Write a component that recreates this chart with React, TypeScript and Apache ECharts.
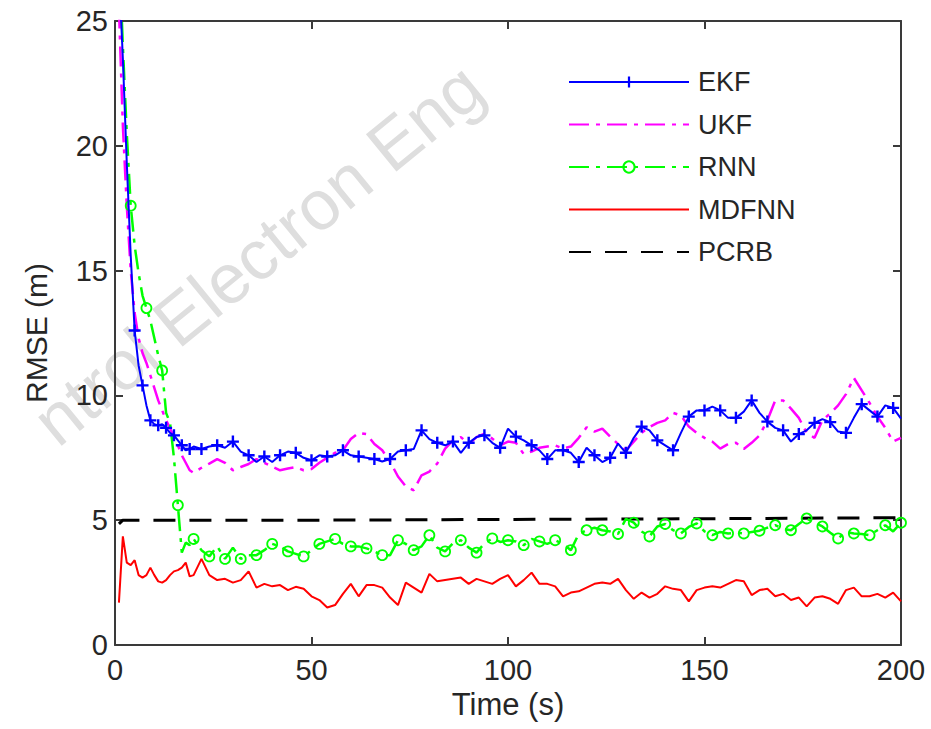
import React, { useEffect, useRef } from "react";
import * as echarts from "echarts";

const TIME = [
  1, 2, 3, 4, 5, 6, 7, 8, 9, 10, 11, 12, 13, 14, 15, 16, 17, 18, 19, 20,
  22, 24, 26, 28, 30, 32, 34, 36, 38, 40, 42, 44, 46, 48, 50, 52, 54, 56, 58, 60,
  62, 64, 66, 68, 70, 72, 74, 76, 78, 80, 82, 84, 86, 88, 90, 92, 94, 96, 98, 100,
  102, 104, 106, 108, 110, 112, 114, 116, 118, 120, 122, 124, 126, 128, 130, 132, 134, 136, 138, 140,
  142, 144, 146, 148, 150, 152, 154, 156, 158, 160, 162, 164, 166, 168, 170, 172, 174, 176, 178, 180,
  182, 184, 186, 188, 190, 192, 194, 196, 198, 200,
];

const EKF = [
  27, 23.5, 19.3, 15.6, 12.6, 11.2, 10.4, 9.6, 9.0, 8.85, 8.8, 8.85, 8.7, 8.5, 8.4, 8.2, 8.0, 7.8, 7.85, 7.95,
  7.85, 7.95, 8.0, 7.9, 8.15, 7.75, 7.6, 7.33, 7.55, 7.33, 7.6, 7.75, 7.7, 7.5, 7.4, 7.6, 7.55, 7.6, 7.8, 7.6,
  7.55, 7.5, 7.45, 7.35, 7.45, 7.75, 7.8, 7.85, 8.6, 8.25, 8.1, 8.0, 8.15, 7.7, 8.1, 8.33, 8.4, 8.1, 7.9, 8.67,
  8.35, 8.2, 8.0, 7.8, 7.45, 7.8, 7.8, 7.7, 7.33, 7.9, 7.6, 7.33, 7.5, 8.07, 7.7, 8.3, 8.75, 8.6, 8.2, 8.0,
  7.8, 8.5, 9.15, 9.4, 9.4, 9.55, 9.4, 9.1, 9.1, 9.35, 9.8, 9.3, 8.95, 8.7, 8.6, 8.15, 8.45, 8.6, 8.9, 9.05,
  8.93, 8.55, 8.5, 9.1, 9.65, 9.4, 9.15, 9.6, 9.5, 9.07,
];

const UKF = [
  25.5, 20.8, 17.6, 15.0, 13.3, 12.3, 11.7, 11.3, 10.8, 10.3, 9.8, 9.4, 9.0, 8.7, 8.3, 8.0, 7.6, 7.3, 7.0, 6.9,
  7.1, 7.27, 7.45, 7.3, 7.0, 7.13, 7.25, 7.45, 7.3, 7.15, 7.0, 7.07, 7.13, 7.0, 7.05, 7.3, 7.5, 7.7, 7.8, 8.25,
  8.5, 8.45, 8.05, 7.8, 7.35, 6.75, 6.35, 6.2, 6.8, 6.95, 7.27, 7.87, 8.2, 8.33, 8.05, 8.33, 8.47, 8.27, 8.0, 8.15,
  8.1, 7.65, 7.75, 7.9, 7.95, 8.0, 7.87, 7.95, 8.3, 8.72, 8.55, 8.67, 8.35, 8.05, 7.8, 8.15, 8.5, 8.73, 8.9, 9.0,
  9.3, 9.2, 8.75, 8.5, 8.3, 8.15, 7.87, 8.05, 8.1, 7.85, 8.1, 8.4, 9.0, 9.8, 9.8, 9.47, 9.1, 8.5, 8.3, 9.0,
  9.28, 9.6, 10.05, 10.7, 10.2, 9.7, 9.15, 8.7, 8.15, 8.3,
];

const RNN = [
  28, 24, 20.5, 17.6, 16.0, 14.9, 14.0, 13.5, 13.0, 12.3, 11.6, 11.0, 9.3, 8.9, 7.5, 5.6, 3.7, 4.1, 4.0, 4.25,
  3.8, 3.55, 3.95, 3.45, 3.9, 3.45, 3.6, 3.6, 3.8, 4.05, 3.95, 3.75, 3.65, 3.55, 3.8, 4.05, 4.15, 4.25, 4.05, 3.95,
  3.95, 3.87, 3.75, 3.6, 3.6, 4.2, 4.05, 3.8, 3.95, 4.4, 3.9, 3.75, 4.07, 4.2, 3.9, 3.7, 4.07, 4.27, 4.13, 4.2,
  4.15, 4.0, 4.25, 4.15, 4.05, 4.2, 4.05, 3.8, 4.45, 4.6, 4.7, 4.6, 4.55, 4.45, 5.05, 4.9, 4.55, 4.35, 4.75, 4.85,
  4.6, 4.47, 4.73, 4.87, 4.55, 4.4, 4.53, 4.47, 4.5, 4.47, 4.53, 4.58, 4.7, 4.8, 4.65, 4.6, 4.85, 5.07, 4.9, 4.75,
  4.5, 4.27, 4.53, 4.47, 4.45, 4.4, 4.6, 4.8, 4.55, 4.9,
];

const MDFNN = [
  1.7, 4.35, 3.3, 3.2, 3.4, 2.8, 2.7, 2.8, 3.1, 2.8, 2.55, 2.5, 2.6, 2.8, 2.95, 3.0, 3.1, 3.3, 2.75, 2.8,
  3.45, 2.8, 2.6, 2.65, 2.5, 2.6, 2.95, 2.3, 2.45, 2.35, 2.4, 2.2, 2.33, 2.25, 1.95, 1.8, 1.5, 1.6, 2.05, 2.45,
  1.95, 2.4, 2.4, 2.3, 1.9, 1.6, 2.5, 2.3, 2.1, 2.85, 2.55, 2.6, 2.65, 2.7, 2.45, 2.65, 2.55, 2.45, 2.65, 2.8,
  2.35, 2.6, 2.9, 2.45, 2.45, 2.35, 1.95, 2.1, 2.15, 2.3, 2.45, 2.5, 2.45, 2.65, 2.2, 1.85, 2.1, 1.9, 2.05, 2.35,
  2.25, 2.2, 1.75, 2.2, 2.3, 2.35, 2.3, 2.45, 2.6, 2.55, 2.0, 2.2, 2.25, 1.95, 2.05, 1.8, 1.9, 1.55, 1.9, 1.95,
  1.85, 1.65, 2.2, 2.3, 1.95, 1.95, 2.05, 1.9, 2.1, 1.75,
];

const PCRB_TIME = [1, 2, 50, 100, 150, 200];
const PCRB = [4.85, 5.0, 5.0, 5.03, 5.06, 5.1];

const X_TICKS = [0, 50, 100, 150, 200];
const Y_TICKS = [0, 5, 10, 15, 20, 25];

const FONT = "'Liberation Sans', Arial, Helvetica, sans-serif";
const AXIS_COLOR = "#3a3a3a";
const TEXT_COLOR = "#262626";

const PLUS_PATH = "path://M4,0H6V4H10V6H6V10H4V6H0V4H4Z";

export default function App() {
  const ref = useRef<HTMLDivElement>(null);

  useEffect(() => {
    if (!ref.current) return;
    const chart = echarts.init(ref.current, null, { renderer: "svg" });

    const pair = (vals: number[], times: number[]) => times.map((t, i) => [t, vals[i]]);

    const commonX = {
      type: "value",
      min: X_TICKS[0],
      max: X_TICKS[X_TICKS.length - 1],
      interval: 50,
      splitLine: { show: false },
      axisLine: { show: true, onZero: false, lineStyle: { color: AXIS_COLOR, width: 2 } },
      axisTick: { show: true, inside: true, length: 8, lineStyle: { color: AXIS_COLOR, width: 2 } },
    };
    const commonY = {
      type: "value",
      min: Y_TICKS[0],
      max: Y_TICKS[Y_TICKS.length - 1],
      interval: 5,
      splitLine: { show: false },
      axisLine: { show: true, onZero: false, lineStyle: { color: AXIS_COLOR, width: 2 } },
      axisTick: { show: true, inside: true, length: 8, lineStyle: { color: AXIS_COLOR, width: 2 } },
    };

    const hiddenSymbol = { color: "rgba(0,0,0,0)", borderColor: "rgba(0,0,0,0)", borderWidth: 0, opacity: 0 };

    chart.setOption({
      animation: false,
      backgroundColor: "#ffffff",
      textStyle: { fontFamily: FONT },
      graphic: [
        {
          type: "text",
          x: 258,
          y: 254,
          rotation: (39.3 * Math.PI) / 180,
          z: -10,
          silent: true,
          style: {
            text: "ntrol Electron Eng",
            fontSize: 70,
            fontFamily: FONT,
            fill: "#dedede",
            align: "center",
            verticalAlign: "middle",
          },
        },
      ],
      grid: { left: 115, right: 30, top: 21, bottom: 84, containLabel: false },
      legend: {
        orient: "vertical",
        left: 563,
        top: 63,
        itemWidth: 120,
        itemHeight: 14,
        itemGap: 14.5,
        data: [
          "EKF",
          { name: "UKF", itemStyle: hiddenSymbol },
          "RNN",
          { name: "MDFNN", itemStyle: hiddenSymbol },
          { name: "PCRB", itemStyle: hiddenSymbol },
        ],
        textStyle: {
          fontSize: 27,
          lineHeight: 28,
          color: TEXT_COLOR,
          fontFamily: FONT,
          padding: [0, 0, 0, 4],
        },
      },
      xAxis: [
        {
          ...commonX,
          position: "bottom",
          name: "Time (s)",
          nameLocation: "middle",
          nameGap: 33,
          nameTextStyle: { fontSize: 31, color: TEXT_COLOR, fontFamily: FONT, verticalAlign: "top" },
          axisLabel: { fontSize: 29, color: TEXT_COLOR, margin: 10, fontFamily: FONT },
        },
        {
          ...commonX,
          position: "top",
          axisLabel: { show: false },
        },
      ],
      yAxis: [
        {
          ...commonY,
          position: "left",
          name: "RMSE (m)",
          nameLocation: "middle",
          nameGap: 64,
          nameTextStyle: { fontSize: 30, color: TEXT_COLOR, fontFamily: FONT },
          axisLabel: { fontSize: 29, color: TEXT_COLOR, margin: 7, fontFamily: FONT },
        },
        {
          ...commonY,
          position: "right",
          axisLabel: { show: false },
        },
      ],
      series: [
        {
          name: "EKF",
          type: "line",
          data: pair(EKF, TIME),
          symbol: PLUS_PATH,
          showAllSymbol: true,
          symbolSize: (v: number[]) => {
            const t = v[0];
            const on = t <= 20 ? t >= 5 && t % 2 === 1 : t % 4 === 2;
            return on ? 12 : 0;
          },
          itemStyle: { color: "#0000ff" },
          lineStyle: { color: "#0000ff", width: 2 },
          z: 4,
        },
        {
          name: "UKF",
          type: "line",
          data: pair(UKF, TIME),
          symbol: "none",
          itemStyle: { color: "#ff00ff" },
          lineStyle: { color: "#ff00ff", width: 2.5, type: [20, 7, 4, 7] },
          z: 3,
        },
        {
          name: "RNN",
          type: "line",
          data: pair(RNN, TIME),
          symbol: "circle",
          showAllSymbol: true,
          symbolSize: (v: number[]) => (v[0] % 4 === 0 ? 10 : 0),
          itemStyle: { color: "rgba(0,0,0,0)", borderColor: "#00ff00", borderWidth: 1.8 },
          lineStyle: { color: "#00ff00", width: 2.5, type: [20, 7, 4, 7] },
          z: 3,
        },
        {
          name: "MDFNN",
          type: "line",
          data: pair(MDFNN, TIME),
          symbol: "none",
          itemStyle: { color: "#ff0000" },
          lineStyle: { color: "#ff0000", width: 2 },
          z: 3,
        },
        {
          name: "PCRB",
          type: "line",
          data: pair(PCRB, PCRB_TIME),
          symbol: "none",
          itemStyle: { color: "#000000" },
          lineStyle: { color: "#000000", width: 3, type: [22, 14] },
          z: 2,
        },
      ],
    });

    return () => chart.dispose();
  }, []);

  return (
    <div
      ref={ref}
      style={{ position: "fixed", left: 0, top: 0, width: 931, height: 729, background: "#fff" }}
    />
  );
}
